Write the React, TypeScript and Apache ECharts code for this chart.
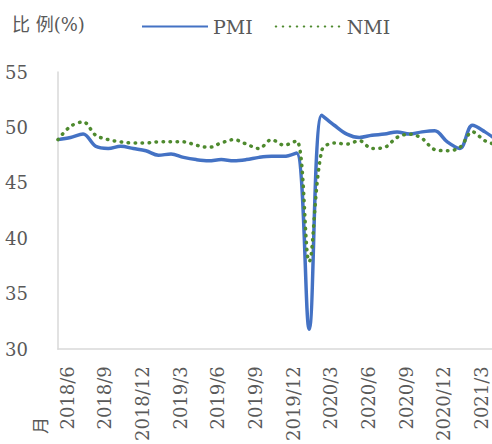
import React, { useEffect, useRef } from "react";
import * as echarts from "echarts";

const categories = [
  "2018/6", "2018/7", "2018/8", "2018/9", "2018/10", "2018/11", "2018/12",
  "2019/1", "2019/2", "2019/3", "2019/4", "2019/5", "2019/6", "2019/7", "2019/8", "2019/9", "2019/10", "2019/11", "2019/12",
  "2020/1", "2020/2", "2020/3", "2020/4", "2020/5", "2020/6", "2020/7", "2020/8", "2020/9", "2020/10", "2020/11", "2020/12",
  "2021/1", "2021/2", "2021/3", "2021/4", "2021/5",
];

const pmi = [
  48.9, 49.1, 49.4, 48.3, 48.1, 48.3, 48.1,
  47.9, 47.5, 47.6, 47.3, 47.1, 47.0, 47.1, 47.0, 47.1, 47.3, 47.4, 47.4,
  47.7, 31.8, 51.1, 50.2, 49.4, 49.1, 49.3, 49.4, 49.6, 49.4, 49.6, 49.7,
  48.7, 48.1, 50.2, 49.6, 48.8,
];

const nmi = [
  48.9, 50.1, 50.5, 49.3, 48.9, 48.7, 48.6,
  48.6, 48.7, 48.7, 48.7, 48.4, 48.2, 48.6, 48.9, 48.5, 48.1, 48.9, 48.4,
  48.8, 37.9, 47.9, 48.6, 48.5, 48.8, 48.1, 48.2, 49.1, 49.4, 49.0, 48.0,
  47.9, 48.2, 49.6, 48.8, 48.4,
];

const yMin = 30;
const yMax = 55;
const yStep = 5;

const SERIF = "DejaVu Serif, Noto Sans CJK SC, serif";
const GRAY = "#595959";

export default function App() {
  const ref = useRef<HTMLDivElement>(null);
  useEffect(() => {
    if (!ref.current) return;
    const chart = echarts.init(ref.current, undefined, { renderer: "svg" });
    chart.setOption({
      animation: false,
      backgroundColor: "#ffffff",
      legend: {
        data: ["PMI", "NMI"],
        left: 136,
        top: 12,
        itemWidth: 66,
        itemHeight: 14,
        itemGap: 22,
        itemStyle: { opacity: 0, borderWidth: 0 },
        textStyle: { fontFamily: SERIF, fontSize: 19, color: GRAY },
      },
      graphic: [
        {
          type: "text",
          left: 12,
          top: 15,
          style: { text: "比 例(%)", fontFamily: SERIF, fontSize: 18, fill: GRAY },
        },
        {
          type: "text",
          x: 31,
          y: 434,
          rotation: Math.PI / 2,
          style: { text: "月", fontFamily: "Noto Sans CJK SC", fontSize: 17, fill: GRAY },
        },
      ],
      grid: { left: 58, right: 12.5, top: 72, bottom: 89, containLabel: false },
      xAxis: {
        type: "category",
        data: categories,
        boundaryGap: false,
        axisLine: { show: true, lineStyle: { color: "#D9D9D9", width: 1.5 } },
        axisTick: { show: false },
        splitLine: { show: false },
        axisLabel: {
          interval: 2,
          rotate: 90,
          margin: 17,
          verticalAlign: "top",
          lineHeight: 18,
          fontFamily: SERIF,
          fontSize: 18,
          color: GRAY,
        },
      },
      yAxis: {
        type: "value",
        min: yMin,
        max: yMax,
        interval: yStep,
        axisLine: { show: true, lineStyle: { color: "#D9D9D9", width: 1.5 } },
        axisTick: { show: false },
        splitLine: { show: false },
        axisLabel: { margin: 30, fontFamily: SERIF, fontSize: 18, color: GRAY },
      },
      series: [
        {
          name: "PMI",
          type: "line",
          data: pmi,
          smooth: 0.35,
          symbol: "none",
          lineStyle: { color: "#4472C4", width: 3.5 },
          itemStyle: { color: "#4472C4" },
          z: 2,
        },
        {
          name: "NMI",
          type: "line",
          data: nmi,
          smooth: 0.35,
          symbol: "none",
          lineStyle: { color: "#4E8A2E", width: 3.5, type: [0.5, 6.5], cap: "round" },
          itemStyle: { color: "#4E8A2E" },
          z: 3,
        },
      ],
    });
    return () => chart.dispose();
  }, []);
  return (
    <div
      ref={ref}
      style={{ position: "fixed", left: 0, top: 0, width: 510, height: 444 }}
    />
  );
}
